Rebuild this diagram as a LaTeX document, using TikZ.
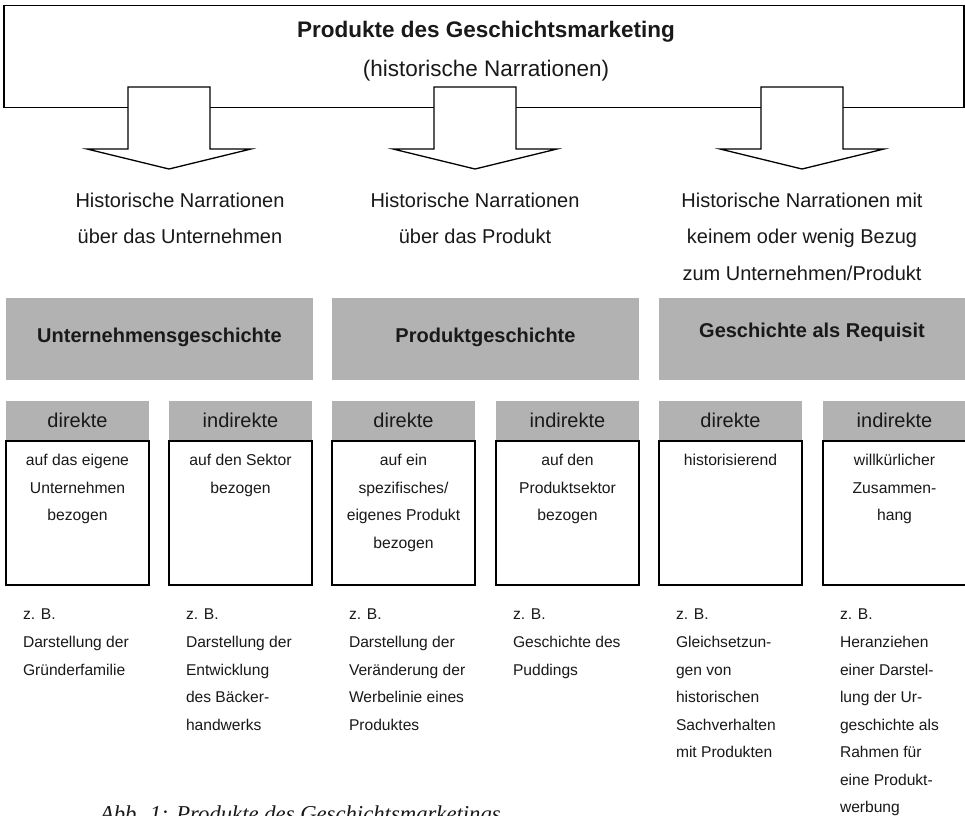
\documentclass[tikz,border=0pt]{standalone}
\usepackage{fontspec}
\setmainfont{Liberation Sans}
\newfontfamily\capfont{Liberation Serif}
\definecolor{hgray}{RGB}{178,178,178}
\definecolor{ink}{RGB}{25,25,25}
\begin{document}
\begin{tikzpicture}[x=1pt,y=-1pt,
  frame/.style={draw=black, line width=1.3pt, fill=white, inner sep=0pt, outer sep=0pt},
  graybox/.style={fill=hgray, draw=none, inner sep=0pt, outer sep=0pt},
  txt/.style={text=ink, inner sep=0pt, outer sep=0pt},
  blockarrow/.style={draw=black, line width=1.3pt, fill=white, line join=miter},
  bigtxt/.style={txt, font=\fontsize{22.5}{27}\selectfont},
  midtxt/.style={txt, font=\fontsize{20}{36.5}\selectfont, align=center, anchor=north},
  cattxt/.style={txt, font=\bfseries\fontsize{20}{24}\selectfont, anchor=base},
  headtxt/.style={txt, font=\fontsize{20}{24}\selectfont, anchor=base},
  boxtxt/.style={txt, font=\fontsize{15.7}{27.6}\selectfont, align=center, anchor=north},
  extxt/.style={txt, font=\fontsize{15.6}{27.55}\selectfont, align=left, anchor=north west},
  captxt/.style={txt, font=\capfont\itshape\fontsize{22.7}{27}\selectfont, anchor=base west}]
\useasboundingbox (0,0) rectangle (965,815);
\fill[white] (0,0) rectangle (965,815);

% top box
\node[frame, anchor=north west, minimum width=960pt, minimum height=102pt] (top) at (4,5.5) {};
\node[bigtxt, font=\bfseries\fontsize{22.5}{27}\selectfont, anchor=base] (title) at (486,37) {Produkte des Geschichtsmarketing};
\node[bigtxt, anchor=base] (subtitle) at (486,76) {(historische Narrationen)};

% block arrows
\foreach \c/\n in {169/a1,475/a2,802/a3}{
  \coordinate (\n) at (\c,87);
  \draw[blockarrow] (\n) ++(-41,0) -- ++(82,0) -- ++(0,62) -- ++(41,0)
     -- ++(-82,20) -- ++(-82,-20) -- ++(41,0) -- cycle;
}

% second row texts
\node[midtxt] (n1) at (180,192.6) {Historische Narrationen\\über das Unternehmen};
\node[midtxt] (n2) at (475,192.6) {Historische Narrationen\\über das Produkt};
\node[midtxt] (n3) at (802,192.6) {Historische Narrationen mit\\keinem oder wenig Bezug\\zum Unternehmen/Produkt};

% category boxes
\node[graybox, anchor=north west, minimum width=307pt, minimum height=82pt] (ug) at (6,298) {};
\node[graybox, anchor=north west, minimum width=307pt, minimum height=82pt] (pg) at (332,298) {};
\node[graybox, anchor=north west, minimum width=306pt, minimum height=82pt] (gr) at (659,298) {};
\node[cattxt] (ugt) at (159.5,342) {Unternehmensgeschichte};
\node[cattxt] (pgt) at (485.5,342) {Produktgeschichte};
\node[cattxt] (grt) at (812,337) {Geschichte als Requisit};

% sub boxes
\foreach \i/\L/\h in {1/6/direkte,2/169/indirekte,3/332/direkte,4/496/indirekte,5/659/direkte,6/823/indirekte}{
  \node[graybox, anchor=north west, minimum width=143pt, minimum height=40pt] (h\i) at (\L,401) {};
  \node[frame, anchor=north west, minimum width=143pt, minimum height=144pt] (b\i) at (\L,441) {};
  \node[headtxt] (ht\i) at ([yshift=-6pt]h\i.center) {\h};
}

\node[boxtxt] (bt1) at ([yshift=-13.3pt]b1.north) {auf das eigene\\Unternehmen\\bezogen};
\node[boxtxt] (bt2) at ([yshift=-13.3pt]b2.north) {auf den Sektor\\bezogen};
\node[boxtxt] (bt3) at ([yshift=-13.3pt]b3.north) {auf ein\\spezifisches/\\eigenes Produkt\\bezogen};
\node[boxtxt] (bt4) at ([yshift=-13.3pt]b4.north) {auf den\\Produktsektor\\bezogen};
\node[boxtxt] (bt5) at ([yshift=-13.3pt]b5.north) {historisierend};
\node[boxtxt] (bt6) at ([yshift=-13.3pt]b6.north) {willkürlicher\\Zusammen-\\hang};

% examples
\node[extxt] (e1) at ([xshift=17pt,yshift=-24.2pt]b1.south west) {z. B.\\Darstellung der\\Gründerfamilie};
\node[extxt] (e2) at ([xshift=17pt,yshift=-24.2pt]b2.south west) {z. B.\\Darstellung der\\Entwicklung\\des Bäcker-\\handwerks};
\node[extxt] (e3) at ([xshift=17pt,yshift=-24.2pt]b3.south west) {z. B.\\Darstellung der\\Veränderung der\\Werbelinie eines\\Produktes};
\node[extxt] (e4) at ([xshift=17pt,yshift=-24.2pt]b4.south west) {z. B.\\Geschichte des\\Puddings};
\node[extxt] (e5) at ([xshift=17pt,yshift=-24.2pt]b5.south west) {z. B.\\Gleichsetzun-\\gen von\\historischen\\Sachverhalten\\mit Produkten};
\node[extxt] (e6) at ([xshift=17pt,yshift=-24.2pt]b6.south west) {z. B.\\Heranziehen\\einer Darstel-\\lung der Ur-\\geschichte als\\Rahmen für\\eine Produkt-\\werbung};

% caption (cut off at the lower edge, as in the reference)
\node[captxt] (cap) at (100,821) {Abb. 1: Produkte des Geschichtsmarketings};
\end{tikzpicture}
\end{document}
